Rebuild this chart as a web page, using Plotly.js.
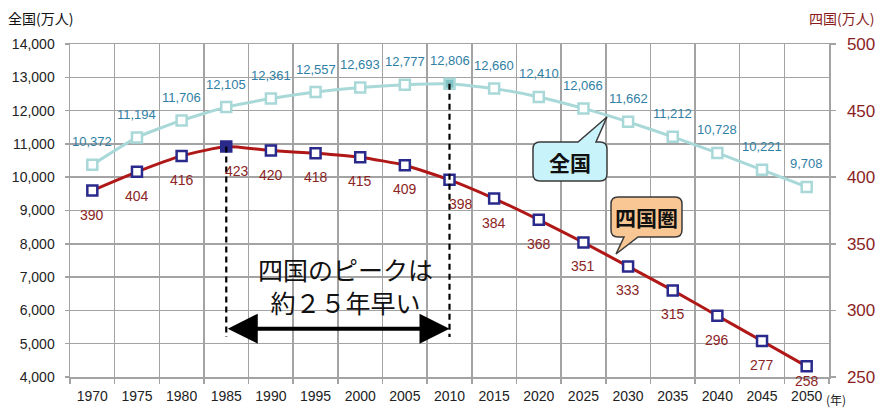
<!DOCTYPE html>
<html><head><meta charset="utf-8">
<script src="https://cdn.plot.ly/plotly-3.0.1.min.js"></script>
<style>html,body{margin:0;padding:0;background:#fff;}#chart{width:878px;height:410px;}</style>
</head><body><div id="chart"></div>
<script>
const years = ['1970','1975','1980','1985','1990','1995','2000','2005','2010','2015','2020','2025','2030','2035','2040','2045','2050'];
const national = [10372,11194,11706,12105,12361,12557,12693,12777,12806,12660,12410,12066,11662,11212,10728,10221,9708];
const shikoku = [390,404,416,423,420,418,415,409,398,384,368,351,333,315,296,277,258];

const L=70,R=829,T=44,B=377;
function P(x,y){return ((x-L)/(R-L)).toFixed(4)+','+((B-y)/(B-T)).toFixed(4);}
function px(x){return (x-L)/(R-L);} function py(y){return (B-y)/(B-T);}

const natPeak = national.indexOf(Math.max(...national));
const shiPeak = shikoku.indexOf(Math.max(...shikoku));

const natCol='#a9d8d8', shiLine='#b01818', shiMk='#2a2a8c';
const traces=[
 {x:years,y:national,yaxis:'y',type:'scatter',mode:'lines+markers',
  line:{color:natCol,width:3,shape:'spline',smoothing:0.5},
  marker:{symbol:'square',size:10,color:national.map((v,i)=>i===natPeak?'#7fc2c6':'#ffffff'),line:{color:natCol,width:2.5}},hoverinfo:'skip'},
 {x:years,y:shikoku,yaxis:'y2',type:'scatter',mode:'lines+markers',
  line:{color:shiLine,width:3,shape:'spline',smoothing:0.5},
  marker:{symbol:'square',size:10,color:shikoku.map((v,i)=>i===shiPeak?shiMk:'#ffffff'),line:{color:shiMk,width:2.5}},hoverinfo:'skip'}
];

const ann=[];
national.forEach((v,i)=>ann.push({x:i,y:v,xref:'x',yref:'y',text:v.toLocaleString('en-US'),showarrow:false,yshift:23,
  xanchor:'center',yanchor:'middle',font:{size:13,color:'#2f80a4'}}));
shikoku.forEach((v,i)=>ann.push({x:i,y:v,xref:'x',yref:'y2',text:String(v),showarrow:false,xanchor:'center',yanchor:'middle',
  yshift:(i===shikoku.length-1?-15:-24),xshift:(i===shiPeak||i===natPeak?11:0),font:{size:14,color:'#8b2525'}}));

// double arrow between peaks
ann.push({x:natPeak,y:5450,xref:'x',yref:'y',ax:shiPeak,ay:5450,axref:'x',ayref:'y',
  showarrow:true,arrowside:'end+start',arrowhead:2,arrowwidth:4,arrowsize:1.5,arrowcolor:'#000',text:''});
function pa(x,y,text,font,xa){return {x:px(x),y:py(y),xref:'paper',yref:'paper',xanchor:xa||'center',yanchor:'middle',text:text,showarrow:false,font:font};}
ann.push(pa(345,285,'四国のピークは<br>約２５年早い',{size:25,color:'#111',family:'Noto Sans CJK JP'}));
ann.push(pa(6,18,'全国(万人)',{size:14,color:'#111',family:'Noto Sans CJK JP'},'left'));
ann.push(pa(807,18,'四国(万人)',{size:14,color:'#8b1a1a',family:'Noto Sans CJK JP'},'left'));
ann.push(pa(824,399,'(年)',{size:12,color:'#222',family:'Noto Sans CJK JP'},'left'));
ann.push(pa(570,162,'<b>全国</b>',{size:21,color:'#111',family:'Noto Sans CJK JP'}));
ann.push(pa(646.5,217,'<b>四国圏</b>',{size:21,color:'#111',family:'Noto Sans CJK JP'}));

function calloutTop(x0,y0,x1,y1,r,a,b,tx,ty){
 return 'M'+P(x0+r,y0)+' L'+P(a,y0)+' L'+P(tx,ty)+' L'+P(b,y0)+' L'+P(x1-r,y0)+' Q'+P(x1,y0)+' '+P(x1,y0+r)+
 ' L'+P(x1,y1-r)+' Q'+P(x1,y1)+' '+P(x1-r,y1)+' L'+P(x0+r,y1)+' Q'+P(x0,y1)+' '+P(x0,y1-r)+' L'+P(x0,y0+r)+' Q'+P(x0,y0)+' '+P(x0+r,y0)+' Z';
}
function calloutBottom(x0,y0,x1,y1,r,c,d,tx,ty){
 return 'M'+P(x0+r,y0)+' L'+P(x1-r,y0)+' Q'+P(x1,y0)+' '+P(x1,y0+r)+' L'+P(x1,y1-r)+' Q'+P(x1,y1)+' '+P(x1-r,y1)+
 ' L'+P(c,y1)+' L'+P(tx,ty)+' L'+P(d,y1)+' L'+P(x0+r,y1)+' Q'+P(x0,y1)+' '+P(x0,y1-r)+' L'+P(x0,y0+r)+' Q'+P(x0,y0)+' '+P(x0+r,y0)+' Z';
}

const yLow=5200;
const y2Low=250+(yLow-4000)/10000*250;
const shapes=[
 {type:'line',xref:'x',yref:'y2',x0:shiPeak,x1:shiPeak,y0:shikoku[shiPeak],y1:y2Low,line:{color:'#000',width:2.2,dash:'6px,4px'}},
 {type:'line',xref:'x',yref:'y',x0:natPeak,x1:natPeak,y0:national[natPeak],y1:yLow,line:{color:'#000',width:2.2,dash:'6px,4px'}},
 {type:'path',xref:'paper',yref:'paper',path:calloutTop(533,142,607,181,7,578,596,607,117),fillcolor:'#c9f3fa',line:{color:'#3a3a3a',width:1.5}},
 {type:'path',xref:'paper',yref:'paper',path:calloutBottom(611,197,682,237,7,638,624,616,254),fillcolor:'#f9c793',line:{color:'#3a3a3a',width:1.5}}
];

const grid='#a3a3a3';
const layout={
 width:878,height:410,margin:{l:L,r:878-R,t:T,b:410-B},
 paper_bgcolor:'#fff',plot_bgcolor:'#fff',showlegend:false,
 font:{family:'Liberation Sans, Arial, Noto Sans CJK JP',color:'#222'},
 xaxis:{type:'category',categoryorder:'array',categoryarray:years,range:[-0.5,years.length-0.5],tickson:'boundaries',
   showgrid:true,gridcolor:grid,gridwidth:1.5,ticks:'outside',ticklen:5,tickcolor:grid,tickwidth:1.5,
   showline:true,linecolor:grid,linewidth:1.5,mirror:true,tickfont:{size:14,color:'#222'},ticklabelstandoff:6,fixedrange:true},
 yaxis:{range:[4000,14000],dtick:1000,tickformat:',d',showgrid:true,gridcolor:grid,gridwidth:1.5,ticks:'outside',ticklen:4,
   tickcolor:grid,tickwidth:1.5,showline:true,linecolor:grid,linewidth:1.5,mirror:true,zeroline:false,
   tickfont:{size:14,color:'#222'},ticklabelstandoff:7,fixedrange:true},
 yaxis2:{overlaying:'y',side:'right',range:[250,500],dtick:50,showgrid:false,ticks:'outside',ticklen:5,tickcolor:grid,tickwidth:1.5,
   showline:true,linecolor:grid,linewidth:1.5,zeroline:false,tickfont:{size:17,color:'#8b1f1f'},ticklabelstandoff:8,fixedrange:true},
 annotations:ann,shapes:shapes
};
Plotly.newPlot('chart',traces,layout,{staticPlot:true,displayModeBar:false});
</script></body></html>
